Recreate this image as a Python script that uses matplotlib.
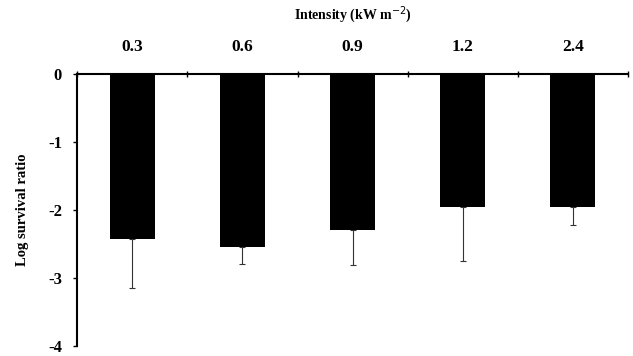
import matplotlib
matplotlib.use("Agg")
import matplotlib.pyplot as plt
import numpy as np

# Light intensity groups and log survival ratios (mean, downward SD)
intensity = ["0.3", "0.6", "0.9", "1.2", "2.4"]
log_survival = [-2.42, -2.54, -2.29, -1.96, -1.96]
sd = [0.73, 0.25, 0.52, 0.79, 0.26]
y_ticks = [0, -1, -2, -3, -4]

plt.rcParams["font.family"] = ["Liberation Serif", "DejaVu Serif"]

fig = plt.figure(figsize=(6.33, 3.56), dpi=100)
ax = fig.add_axes([0.122, 0.028, 0.870, 0.764])

x = np.arange(len(intensity))
ax.bar(x, log_survival, width=0.41, color="black", zorder=2)
ax.errorbar(x, log_survival, yerr=[sd, [0] * len(sd)], fmt="none",
            ecolor="#333333", elinewidth=0.8, capsize=2, capthick=0.8, zorder=1)

ax.set_xlim(-0.5, len(intensity) - 0.5)
ax.set_ylim(-4, 0)

# Category axis on top
ax.xaxis.tick_top()
ax.xaxis.set_label_position("top")
ax.set_xticks(x)
ax.set_xticklabels(intensity, fontsize=12.5, fontweight="bold")
ax.tick_params(axis="x", which="major", length=0, pad=14)
ax.set_xticks(np.arange(-0.5, len(intensity)), minor=True)
ax.tick_params(axis="x", which="minor", length=4, direction="inout", width=1)
ax.set_xlabel("Intensity (kW m$^{-2}$)", fontsize=10, fontweight="bold", labelpad=14)

ax.set_yticks(y_ticks)
ax.set_yticklabels([str(v) if v == 0 else "-%d" % abs(v) for v in y_ticks],
                   fontsize=12, fontweight="bold")
ax.tick_params(axis="y", length=3, width=1, pad=8)
ax.set_ylabel("Log survival ratio", fontsize=10.5, fontweight="bold", labelpad=14)

ax.spines["right"].set_visible(False)
ax.spines["bottom"].set_visible(False)
ax.spines["left"].set_linewidth(1.5)
ax.spines["top"].set_linewidth(1.5)

fig.savefig("out.png", dpi=100)
